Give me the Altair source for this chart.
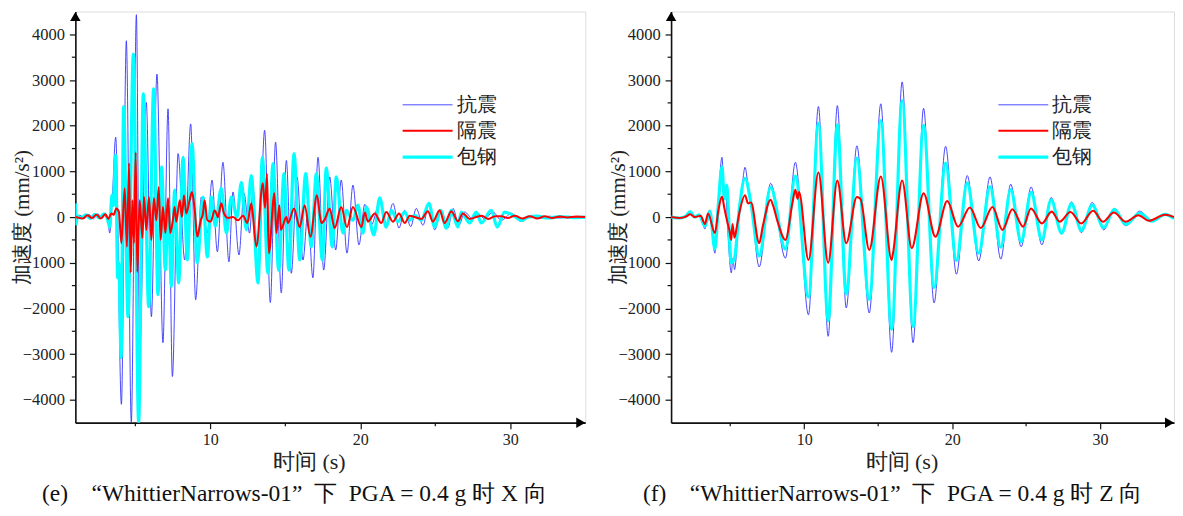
import altair as alt
import pandas as pd

SERIES = ["抗震", "隔震", "包钢"]
COLORS = ["#3535ff", "#ff0000", "#00ffff"]
WIDTHS = [0.9, 3.2, 2.4]
DRAW_ORDER = ["抗震", "包钢", "隔震"]

X_TICKS = [10, 20, 30]
X_MINOR = [5, 15, 25]
Y_TICKS = [-4000, -3000, -2000, -1000, 0, 1000, 2000, 3000, 4000]
Y_MINOR = [-3500, -2500, -1500, -500, 500, 1500, 2500, 3500]

NB = "\u00a0"
CAPTION_E = "(e)" + NB * 4 + "“WhittierNarrows-01”" + NB * 2 + "下" + NB * 2 + "PGA = 0.4 g 时 X 向"
CAPTION_F = "(f)" + NB * 4 + "“WhittierNarrows-01”" + NB * 2 + "下" + NB * 2 + "PGA = 0.4 g 时 Z 向"

# ---- panel (e): X direction, (time s, acceleration mm/s^2) extrema ----
e_kz = [(1.0, 0), (1.3, 40), (1.6, -30), (1.9, 60), (2.2, -40), (2.5, 70), (2.8, -20), (3.0, 80),
        (3.15, 0), (3.29, -350), (3.45, 300), (3.69, 1750), (4.07, -4100), (4.4, 3860), (4.73, -4500),
        (5.07, 4430), (5.29, -2900), (5.73, 2510), (6.07, -2180), (6.44, 3130), (6.84, -2750),
        (7.18, 2370), (7.47, -3490), (7.85, 1390), (8.29, -940), (8.69, 2040), (9.02, -1810),
        (9.4, 440), (9.8, -350), (10.11, 810), (10.47, -760), (10.84, 1200), (11.24, -980),
        (11.51, 550), (11.91, -830), (12.24, 520), (12.62, -350), (12.85, 630), (13.2, -1370),
        (13.62, 1900), (14.0, -1870), (14.35, 1640), (14.73, -1660), (15.07, 1240), (15.4, -1230),
        (15.78, 880), (16.18, -940), (16.5, 100), (16.84, -1330), (17.18, 1310), (17.56, -1160),
        (17.96, 880), (18.36, -720), (18.73, 810), (19.11, -790), (19.51, 700), (19.91, -610),
        (20.3, 280), (20.73, -180), (21.29, 330), (21.73, -180), (22.18, 300), (22.58, -240),
        (22.96, 150), (23.36, -210), (23.73, 190), (24.18, -180), (24.58, 300), (24.96, -280),
        (25.4, 150), (25.84, -240), (26.18, 190), (26.58, -180), (26.96, 110), (27.47, -30),
        (27.84, 80), (28.29, -40), (28.84, 110), (29.4, -70), (30.07, 80), (30.73, -100),
        (31.4, 20), (32.0, -30), (32.6, 20), (33.3, -20), (34.0, 10), (35.0, 0)]

e_gz = [(1.0, 0), (1.5, -30), (1.8, 40), (2.1, -20), (2.4, 50), (2.7, -30), (3.0, 60), (3.2, -40),
        (3.4, 80), (3.55, 50), (3.73, 190), (3.9, 120), (4.07, -570), (4.29, 630), (4.44, -650),
        (4.58, 1180), (4.69, -1220), (4.8, 370), (4.91, -570), (5.02, 1420), (5.13, -1200),
        (5.29, 370), (5.47, -460), (5.58, 440), (5.73, -280), (5.91, 440), (6.07, -500),
        (6.24, 410), (6.4, -70), (6.56, 660), (6.69, -500), (6.84, 220), (7.0, -350), (7.18, 410),
        (7.33, -350), (7.5, -70), (7.62, 220), (7.73, -100), (7.96, 370), (8.11, 0), (8.24, 480),
        (8.4, 80), (8.62, 370), (8.78, 550), (8.96, 150), (9.13, -430), (9.36, -70), (9.51, 80),
        (9.62, 370), (9.8, -70), (10.02, -100), (10.29, 150), (10.51, 0), (10.73, 300),
        (10.91, 80), (11.18, -20), (11.51, 0), (11.84, -70), (12.18, 30), (12.47, -130),
        (12.73, 300), (13.07, -650), (13.5, 740), (13.65, 200), (13.78, 950), (13.9, -790),
        (14.27, 520), (14.4, -350), (14.6, 260), (14.7, -280), (15.07, 0), (15.18, -130),
        (15.58, 190), (15.96, -220), (16.29, 260), (16.67, -430), (17.11, 480), (17.4, -130),
        (17.62, -60), (17.96, 190), (18.29, -240), (18.73, 220), (19.11, -220), (19.51, 220),
        (20.07, -220), (20.3, 100), (20.51, -100), (20.96, 80), (21.4, -130), (21.73, 110),
        (22.18, -100), (22.58, 80), (22.96, -130), (23.3, 30), (23.62, 0), (24.07, -40),
        (24.51, 130), (24.84, -100), (25.29, 150), (25.62, -130), (26.07, 130), (26.51, -90),
        (26.84, 80), (27.29, -40), (27.73, 0), (28.1, 30), (28.51, -40), (29.0, 20), (29.4, 20),
        (29.84, -20), (30.3, 30), (30.8, -30), (31.3, 20), (31.8, -30), (32.3, 20), (32.8, -20),
        (33.3, 10), (33.8, -10), (34.4, 10), (35.0, 0)]

e_bg = [(1.0, 300), (1.05, -150), (1.12, 20), (1.4, -20), (1.7, 50), (2.0, -30), (2.3, 60),
        (2.6, -20), (2.9, 70), (3.15, -50), (3.29, -220), (3.44, 480), (3.53, 250), (3.69, 1350),
        (3.82, -1330), (3.9, -1000), (4.05, -3080), (4.22, 2420), (4.51, -2180), (4.87, 3570),
        (5.22, -4500), (5.53, 2700), (5.89, -1960), (6.22, 2810), (6.51, -1700), (6.75, 1100),
        (7.0, -1160), (7.2, 300), (7.4, -1520), (7.62, 590), (7.89, -1440), (8.18, 1310),
        (8.47, -940), (8.78, 1610), (9.13, -1000), (9.51, 440), (9.8, -870), (10.07, 440),
        (10.33, -200), (10.73, 630), (11.07, -350), (11.4, 440), (11.78, 0), (12.07, 760),
        (12.4, -280), (12.73, 910), (13.18, -1440), (13.47, 1310), (13.84, -1230), (14.18, 1170),
        (14.56, -1160), (14.91, 950), (15.24, -1160), (15.58, 1390), (15.96, -940), (16.36, 950),
        (16.73, -650), (17.07, 950), (17.47, -940), (17.73, 1070), (18.13, -650), (18.4, 880),
        (18.84, -350), (19.07, 150), (19.51, -70), (19.84, 260), (20.18, -350), (20.4, 220),
        (20.91, -390), (21.29, 420), (21.73, -220), (22.07, 150), (22.51, -100), (22.96, 110),
        (23.29, -70), (23.62, 40), (24.07, -70), (24.58, 300), (24.96, -220), (25.36, 150),
        (25.73, -240), (26.07, 150), (26.51, -220), (26.73, 110), (27.29, -130), (27.73, 110),
        (28.07, -130), (28.73, 150), (29.13, -220), (29.62, 110), (30.18, 40), (30.73, -70),
        (31.18, 0), (31.8, 20), (32.5, -20), (33.3, 10), (34.2, -10), (35.0, 0)]

# ---- panel (f): Z direction ----
f_kz = [(1.0, 0), (1.6, -20), (2.0, 20), (2.29, 100), (2.6, -10), (2.9, 60), (3.1, -100),
        (3.29, -260), (3.45, 0), (3.62, 150), (3.96, -790), (4.2, 400), (4.44, 1310), (4.6, 500),
        (4.67, 600), (4.85, -400), (5.07, -1220), (5.18, -900), (5.29, -1150), (5.62, 220),
        (5.75, 500), (6.0, 1090), (6.2, 700), (6.4, 330), (6.96, -1090), (7.73, 740), (8.73, -900),
        (9.4, 1200), (10.29, -2140), (10.96, 2420), (11.62, -2610), (12.24, 2440), (12.84, -1990),
        (13.56, 1560), (14.4, -2100), (15.18, 2480), (15.91, -2960), (16.62, 2960), (17.36, -2750),
        (18.07, 2380), (18.78, -1880), (19.56, 1550), (20.29, -1250), (21.02, 910), (21.8, -960),
        (22.56, 880), (23.29, -920), (23.96, 720), (24.67, -650), (25.34, 660), (26.07, -610),
        (26.69, 430), (27.4, -370), (28.07, 330), (28.74, -340), (29.47, 320), (30.25, -280),
        (30.96, 190), (31.74, -190), (32.69, 130), (33.51, -100), (34.4, 80), (35.0, -40)]

f_gz = [(1.0, 0), (1.6, -20), (2.0, 10), (2.29, 60), (2.6, 0), (3.0, 30), (3.29, -150), (3.5, 80),
        (3.96, -350), (4.2, 150), (4.44, 450), (4.6, 200), (4.8, -100), (4.95, -300), (5.07, -500),
        (5.15, -150), (5.29, -450), (5.45, -200), (5.62, 100), (6.0, 480), (6.2, 300), (6.4, 320),
        (6.96, -570), (7.2, -200), (7.73, 380), (7.9, 250), (8.2, -100), (8.73, -500), (9.2, 300),
        (9.4, 600), (9.55, 400), (9.65, 550), (10.29, -940), (10.96, 980), (11.62, -1000),
        (12.24, 800), (12.84, -570), (13.56, 440), (13.8, 400), (14.4, -720), (15.18, 890),
        (15.91, -940), (16.0, -800), (16.62, 800), (17.27, -680), (18.07, 520), (18.87, -430),
        (19.67, 350), (20.4, -210), (21.2, 210), (21.93, -240), (22.73, 220), (23.4, -280),
        (24.07, 170), (24.8, -210), (25.33, 190), (26.07, -140), (26.73, 120), (27.27, -100),
        (28.0, 110), (28.73, -140), (29.53, 140), (30.2, -100), (30.93, 100), (31.73, -100),
        (32.6, 40), (33.3, -80), (34.4, 50), (35.0, 0)]

f_bg = [(1.0, 0), (1.6, -20), (2.0, 20), (2.29, 120), (2.6, 0), (2.9, 50), (3.29, -200),
        (3.62, 130), (3.96, -700), (4.2, 300), (4.44, 1100), (4.6, 400), (4.75, 700), (5.07, -1000),
        (5.29, -900), (5.62, 200), (6.0, 850), (6.4, 300), (6.96, -850), (7.73, 650), (8.73, -700),
        (9.4, 900), (10.29, -1750), (10.96, 2050), (11.62, -2270), (12.24, 2020), (12.84, -1680),
        (13.56, 1290), (14.4, -1800), (15.18, 2110), (15.91, -2460), (16.62, 2550), (17.36, -2400),
        (18.07, 2010), (18.78, -1540), (19.56, 1180), (20.29, -950), (21.02, 750), (21.8, -790),
        (22.56, 670), (23.29, -660), (23.96, 600), (24.67, -540), (25.34, 540), (26.07, -500),
        (26.69, 380), (27.4, -350), (28.07, 290), (28.74, -290), (29.47, 260), (30.25, -230),
        (30.96, 170), (31.74, -160), (32.69, 90), (33.51, -90), (34.4, 60), (35.0, -30)]

W_E, W_F, H = 511, 504, 412
FONT = "Liberation Serif"


def frame(pairs, name):
    return pd.DataFrame({"t": [p[0] for p in pairs], "a": [p[1] for p in pairs], "s": name})


def legend(lx):
    return alt.Legend(orient="none", legendX=lx, legendY=83, title=None,
                      symbolType="M-2.5,0H2.5", symbolSize=400, labelFont=FONT,
                      labelFontSize=20, labelColor="#222", rowPadding=4,
                      labelOffset=17, padding=0)


def panel(kz, gz, bg, caption, width, cap_dx):
    df = pd.concat([frame(kz, "抗震"), frame(gz, "隔震"), frame(bg, "包钢")], ignore_index=True)
    xenc = alt.X("t:Q", scale=alt.Scale(domain=[1, 35], nice=False, zero=False),
                 axis=alt.Axis(values=X_TICKS, format="d", title="时间 (s)", grid=False,
                               labelFont=FONT, labelFontSize=16, labelColor="#222",
                               labelPadding=3, tickSize=6, tickWidth=1.2, tickColor="#111",
                               domainColor="#111", domainWidth=1.6,
                               titleFont=FONT, titleFontSize=22, titleFontWeight="normal",
                               titleColor="#222", titleX=234 * width / 511, titleY=39,
                               titleBaseline="middle", titleAlign="center"))
    yenc = alt.Y("a:Q", scale=alt.Scale(domain=[-4500, 4500], nice=False, zero=False),
                 axis=alt.Axis(values=Y_TICKS, format="d", title="加速度 (mm/s²)", grid=False,
                               labelFont=FONT, labelFontSize=16.5, labelColor="#222",
                               labelPadding=5, tickSize=6, tickWidth=1.2, tickColor="#111",
                               domainColor="#111", domainWidth=1.6,
                               titleFont=FONT, titleFontSize=21, titleFontWeight="normal",
                               titleColor="#222", titleX=-53, titleY=H / 2, titleAngle=270,
                               titleBaseline="middle", titleAlign="center"))
    cenc = alt.Color("s:N", scale=alt.Scale(domain=SERIES, range=COLORS), legend=legend(341))
    wenc = alt.StrokeWidth("s:N", scale=alt.Scale(domain=SERIES, range=WIDTHS), legend=legend(341))
    base = alt.Chart(df)
    layers = []
    for name in DRAW_ORDER:
        layers.append(base.transform_filter(alt.datum.s == name)
                      .mark_line(interpolate="monotone", clip=True)
                      .encode(x=xenc, y=yenc, color=cenc, strokeWidth=wenc))
    xminor = alt.Chart(pd.DataFrame({"t": X_MINOR})).mark_rule(color="#111", strokeWidth=1.2).encode(
        x=xenc, y=alt.value(H), y2=alt.value(H + 3.5))
    yminor = alt.Chart(pd.DataFrame({"a": Y_MINOR})).mark_rule(color="#111", strokeWidth=1.2).encode(
        y=yenc, x=alt.value(0), x2=alt.value(-3.5))
    up = alt.Chart(pd.DataFrame({"t": [1], "a": [4500]})).mark_point(
        shape="triangle-up", filled=True, color="#000", size=110, opacity=1, yOffset=5).encode(x=xenc, y=yenc)
    right = alt.Chart(pd.DataFrame({"t": [35], "a": [-4500]})).mark_point(
        shape="triangle-right", filled=True, color="#000", size=110, opacity=1, xOffset=-4.5).encode(x=xenc, y=yenc)
    return alt.layer(*layers, xminor, yminor, up, right).properties(
        width=width, height=H,
        title=alt.TitleParams(caption, orient="bottom", font=FONT, fontSize=23.5, fontWeight="normal",
                              color="#111", offset=10, frame="group", anchor="middle", dx=cap_dx))


chart = alt.hconcat(
    panel(e_kz, e_gz, e_bg, CAPTION_E, W_E, -36),
    panel(f_kz, f_gz, f_bg, CAPTION_F, W_F, -30),
    spacing=20,
).resolve_scale(color="independent", strokeWidth="independent").properties(
    padding={"left": 2.5, "top": 2, "right": 0, "bottom": 0}
).configure_view(stroke="#333", strokeWidth=1).configure(background="white")

chart.save("out.html", embed_options={"renderer": "svg", "actions": False})
